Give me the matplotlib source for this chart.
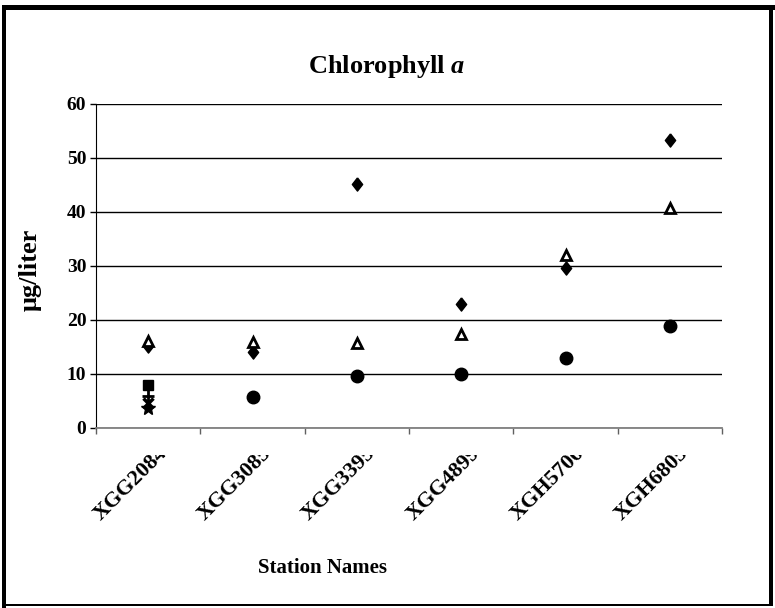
import matplotlib
matplotlib.use('Agg')
import matplotlib.pyplot as plt
from matplotlib.patches import Rectangle
from matplotlib.transforms import Bbox, TransformedBbox

plt.rcParams['font.family'] = ['Liberation Serif', 'DejaVu Serif']
plt.rcParams['font.weight'] = 'bold'
plt.rcParams['mathtext.fontset'] = 'custom'
plt.rcParams['mathtext.it'] = 'Liberation Serif:italic:bold'

# data
stations = ['XGG2084', 'XGG3085', 'XGG3395', 'XGG4899', 'XGH5706', 'XGH6805']
diamond = [15.2, 14.0, 45.2, 23.0, 29.6, 53.3]
triangle = [16.1, 15.9, 15.7, 17.4, 32.0, 40.7]
circle = [None, 5.7, 9.6, 10.0, 12.9, 18.9]
# extra series only at the first station
square1 = 8.0
plus1 = 6.0
xmark1 = 4.6
star1 = 3.7

W, H = 775, 608
fig = plt.figure(figsize=(W / 100, H / 100), dpi=100)
ax = fig.add_axes([96 / W, 1 - 428 / H, 626 / W, 324 / H])

xs = list(range(len(stations)))
diam = [(0, 1), (0.78, 0), (0, -1), (-0.78, 0), (0, 1)]

ax.plot(xs, diamond, ls='none', marker=diam, ms=9.5, color='black', zorder=5)
ax.plot(xs, triangle, ls='none', marker='^', ms=7, mfc='white', mec='black',
        mew=2, zorder=5)
cx = [x for x, v in zip(xs, circle) if v is not None]
cy = [v for v in circle if v is not None]
ax.plot(cx, cy, ls='none', marker='o', ms=9, color='black', zorder=5)
ax.plot([0], [square1], ls='none', marker='s', ms=6.5, color='black', zorder=5)
ax.plot([0], [plus1], ls='none', marker='+', ms=9, mew=2, color='black', zorder=5)
ax.plot([0], [xmark1], ls='none', marker='x', ms=7, mew=2.5, color='black', zorder=5)
ax.plot([0], [star1], ls='none', marker='*', ms=10, color='black', zorder=5)

ax.set_xlim(-0.5, len(stations) - 0.5)
ax.set_ylim(0, 60)
ax.set_yticks(range(0, 61, 10))
ax.set_xticks([i - 0.5 for i in range(len(stations) + 1)])
ax.set_xticklabels([])
ax.grid(axis='y', color='black', lw=1)
ax.set_axisbelow(True)
for s in ['top', 'right']:
    ax.spines[s].set_visible(False)
ax.spines['left'].set_color('black')
ax.spines['bottom'].set_color('#808080')
ax.spines['bottom'].set_linewidth(1.3)
ax.tick_params(axis='y', direction='out', length=4, width=1, pad=3,
               labelsize=14, colors='black')
ax.tick_params(axis='x', direction='out', length=4, width=1, color='#606060')
for lab in ax.get_yticklabels():
    lab.set_fontweight('bold')

# rotated station labels, clipped like the original
clip = TransformedBbox(Bbox([[0, 0], [1, (H - 455) / H]]), fig.transFigure)
for i, name in enumerate(stations):
    t = ax.text(i + 0.15, -22 / 324, name, transform=ax.get_xaxis_transform(),
                rotation=45, rotation_mode='anchor', ha='right', va='center',
                fontsize=16, fontweight='bold')
    t.set_clip_box(clip)
    t.set_clip_on(True)

fig.text(387 / W, 1 - 67 / H, r'Chlorophyll $a$', ha='center', va='center',
         fontsize=19, fontweight='bold')
fig.text(30 / W, 1 - 270 / H, 'μg/liter', rotation=90, ha='center',
         va='center', fontsize=19, fontweight='bold')
fig.text(323 / W, 1 - 568 / H, 'Station Names', ha='center', va='center',
         fontsize=15, fontweight='bold')

# thick outer border
def px_rect(x0, y0, x1, y1):
    fig.patches.append(Rectangle((x0 / W, 1 - y1 / H), (x1 - x0) / W,
                                 (y1 - y0) / H, transform=fig.transFigure,
                                 color='black', lw=0, zorder=10))

px_rect(2, 5, 775, 10)
px_rect(2, 5, 6, 608)
px_rect(769, 5, 773, 606)
px_rect(2, 604, 773, 606)

fig.savefig('out.png', dpi=100)
